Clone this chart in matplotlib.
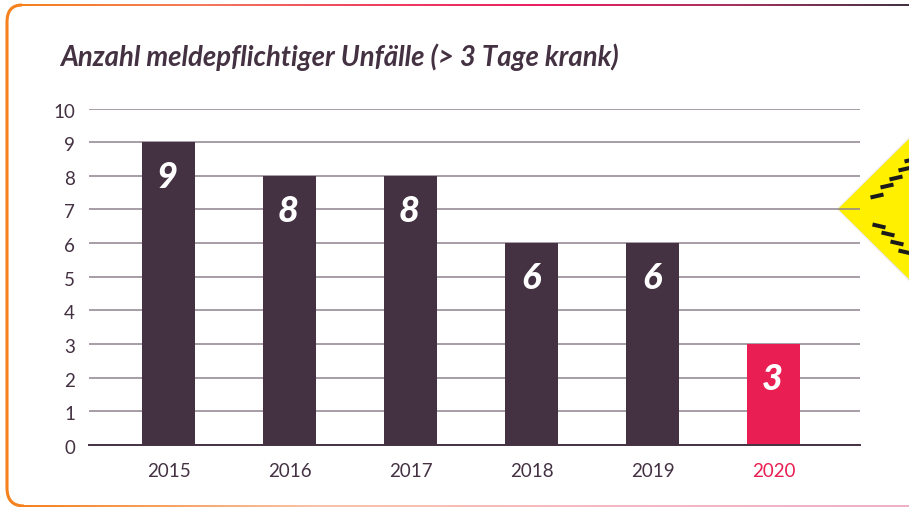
import matplotlib
matplotlib.use("Agg")
import numpy as np
import matplotlib.pyplot as plt
from matplotlib.patches import Polygon, PathPatch
from matplotlib.path import Path
from matplotlib.colors import LinearSegmentedColormap
from matplotlib.transforms import ScaledTranslation

plt.rcParams["font.family"] = ["Lato", "DejaVu Sans"]

jahre = ["2015", "2016", "2017", "2018", "2019", "2020"]
unfaelle = [9, 8, 8, 6, 6, 3]
y_ticks = list(range(0, 11))
titel = "Anzahl meldepflichtiger Unfälle (> 3 Tage krank)"

dunkel = "#443243"
rot = "#e91e52"
gitter = "#8f8290"
farben = [dunkel] * 5 + [rot]

W, H = 909, 507
fig = plt.figure(figsize=(W / 100, H / 100), dpi=100, facecolor="white")

# Rahmen und Warnschild in Pixelkoordinaten
bg = fig.add_axes([0, 0, 1, 1])
bg.axis("off")

# Warnschild rechts
bg.add_patch(Polygon([(837, 209), (911, 135.5), (911, 283)], closed=True, fc="#d8d8d8", ec="none", alpha=0.6))
bg.add_patch(Polygon([(838, 209), (911, 137), (911, 281)], closed=True, fc="#fff000", ec="none"))
for cx, cy in [(877, 196), (887, 186), (896, 178), (905, 169), (911, 160)]:
    bg.plot([cx - 6.5, cx + 6.5], [cy + 1.5, cy - 1.5], color="#1a1a1a", lw=2.9, solid_capstyle="butt")
for cx, cy in [(879, 226), (888, 234), (897, 243), (905, 252)]:
    bg.plot([cx - 6.5, cx + 6.5], [cy - 1.5, cy + 1.5], color="#1a1a1a", lw=2.9, solid_capstyle="butt")

# Rahmen mit Farbverlauf
verlauf_oben = LinearSegmentedColormap.from_list("oben", ["#f5821f", "#f47a5c", "#ee4060", "#e91e63", "#a8325f", "#443243"])
verlauf_unten = LinearSegmentedColormap.from_list("unten", ["#f5821f", "#f9c3a8", "#f5b8c4", "#eeb0c8"])
streifen = np.linspace(0, 1, 256).reshape(1, -1)
bg.imshow(streifen, cmap=verlauf_oben, extent=(20, 909, 6, 4), aspect="auto", interpolation="bilinear")
bg.imshow(streifen, cmap=verlauf_unten, extent=(20, 909, 507, 505.4), aspect="auto", interpolation="bilinear")
ecke = Path([(22, 5), (7, 5), (7, 22), (7, 488), (7, 506), (24, 506)],
            [Path.MOVETO, Path.CURVE3, Path.CURVE3, Path.LINETO, Path.CURVE3, Path.CURVE3])
bg.add_patch(PathPatch(ecke, fc="none", ec="#f5821f", lw=2.2))
bg.set_xlim(0, W)
bg.set_ylim(H, 0)

# Diagramm
ax = fig.add_axes([89 / W, 1 - 445 / H, (860 - 89) / W, (445 - 108.5) / H])
ax.patch.set_alpha(0)
x = np.arange(len(jahre))
ax.bar(x, unfaelle, width=53 / 121, color=farben, zorder=3)
versatz = ScaledTranslation(-1 / 100, -2 / 100, fig.dpi_scale_trans)
for xi, wert in zip(x, unfaelle):
    ax.text(xi, wert - 1, str(wert), color="white", fontsize=26, fontweight="black", fontstyle="italic",
            ha="center", va="center", zorder=4, transform=ax.transData + versatz)

ax.set_xlim(-0.657, 5.715)
ax.set_ylim(0, 10)
ax.set_yticks(y_ticks)
ax.set_xticks(x)
ax.set_xticklabels(jahre)
ax.grid(axis="y", color=gitter, lw=1.1, zorder=1)
ax.set_axisbelow(True)
for s in ["top", "right", "left"]:
    ax.spines[s].set_visible(False)
ax.spines["bottom"].set_color(dunkel)
ax.spines["bottom"].set_linewidth(1.4)
ax.spines["bottom"].set_zorder(5)
ax.tick_params(length=0, labelsize=13.5, labelcolor=dunkel)
ax.tick_params(axis="x", pad=13)
ax.tick_params(axis="y", pad=10)
runter = ScaledTranslation(0, -2 / 100, fig.dpi_scale_trans)
for lab in ax.get_yticklabels():
    lab.set_transform(lab.get_transform() + runter)
ax.get_xticklabels()[-1].set_color(rot)

fig.text(60 / W, 1 - 57 / H, titel, color=dunkel, fontsize=19.8, fontweight="bold", fontstyle="italic",
         ha="left", va="center")

fig.savefig("out.png", dpi=100)
